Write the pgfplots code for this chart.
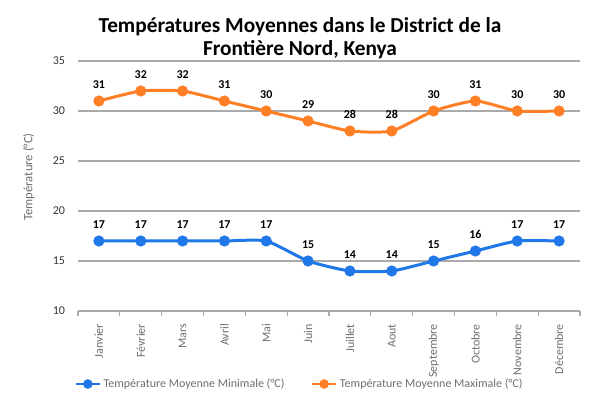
\documentclass[border=0pt]{standalone}
\usepackage{pgfplots}
\pgfplotsset{compat=1.18}
\usepackage{fontspec}
\setmainfont{Carlito}
\definecolor{cblue}{RGB}{31,119,232}
\definecolor{corange}{RGB}{255,127,39}
\definecolor{gridgray}{RGB}{170,170,170}
\definecolor{labgray}{RGB}{110,110,110}
\begin{document}
\begin{tikzpicture}
\useasboundingbox (-58.5pt,-66pt) rectangle (391.5pt,233.25pt);
\begin{axis}[
  at={(0,0)}, anchor=south west,
  scale only axis, width=376.5pt, height=187.5pt,
  xmin=-0.5, xmax=11.5, ymin=10, ymax=35,
  ytick={10,15,20,25,30,35},
  xtick={0,...,11},
  xticklabels={Janvier,Février,Mars,Avril,Mai,Juin,Juillet,Aout,Septembre,Octobre,Novembre,Décembre},
  x tick label style={rotate=90, anchor=east, font=\fontsize{9}{11}\selectfont, text=labgray, xshift=-2pt},
  y tick label style={font=\fontsize{9}{11}\selectfont, text=black!80, xshift=-2pt},
  /pgf/number format/assume math mode=true,
  minor xtick={-0.5,0.5,...,11.5},
  major x tick style={draw=none},
  minor x tick style={draw=gridgray, line width=0.8pt},
  xtick pos=bottom, ytick style={draw=none},
  tick align=outside, minor tick length=4pt,
  ymajorgrids, grid style={gridgray, line width=0.8pt},
  axis x line*=bottom, axis y line*=left,
  y axis line style={draw=none},
  x axis line style={gridgray, line width=0.8pt, -},
  ylabel={Température (°C)},
  ylabel style={font=\fontsize{9.5}{11}\selectfont, text=labgray, at={(axis description cs:0,0.536)}, anchor=center, rotate=0, yshift=37pt},
  nodes near coords,
  every node near coord/.append style={font=\bfseries\fontsize{9}{11}\selectfont, text=black, yshift=5pt},
  clip=false,
  legend style={at={(166.5pt,-63pt)}, anchor=south, draw=none, fill=none, legend columns=2, font=\fontsize{9}{11}\selectfont, text=labgray, /tikz/every even column/.append style={column sep=18pt}},
  legend image code/.code={\draw[#1, line width=1.6pt] (0pt,0pt) -- (18pt,0pt); \fill[#1] (9pt,0pt) circle (2.4pt);},
]
\addplot[cblue, line width=2.25pt, smooth, tension=0.35, mark=*, mark size=3pt, mark options={fill=cblue, draw=cblue}] coordinates {
(0,17) (1,17) (2,17) (3,17) (4,17) (5,15) (6,14) (7,14) (8,15) (9,16) (10,17) (11,17)};
\addlegendentry{Température Moyenne Minimale (°C)}
\addplot[corange, line width=2.25pt, smooth, tension=0.35, mark=*, mark size=3pt, mark options={fill=corange, draw=corange}] coordinates {
(0,31) (1,32) (2,32) (3,31) (4,30) (5,29) (6,28) (7,28) (8,30) (9,31) (10,30) (11,30)};
\addlegendentry{Température Moyenne Maximale (°C)}
\end{axis}
\node[font=\bfseries\fontsize{16}{17}\selectfont, align=center, text=black] at (166.5pt,204.5pt) {Températures Moyennes dans le District de la\\Frontière Nord, Kenya};
\end{tikzpicture}
\end{document}
